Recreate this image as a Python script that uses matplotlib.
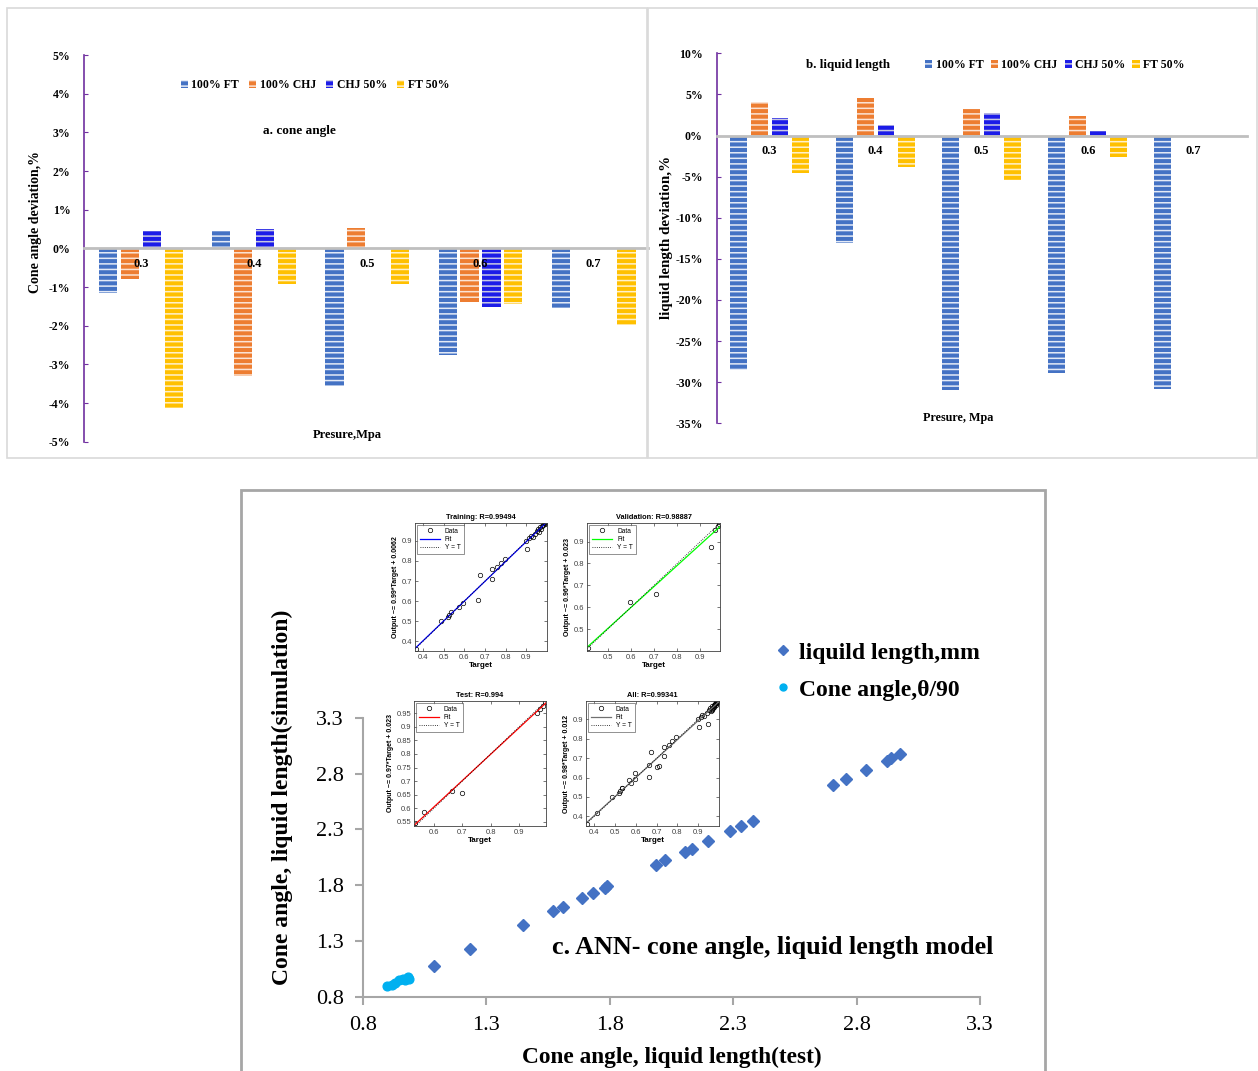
import numpy as np
import matplotlib.pyplot as plt
from matplotlib.patches import Patch, Rectangle
from matplotlib.lines import Line2D

# ---------------------------------------------------------------
# DATA
# ---------------------------------------------------------------
pressures = ["0.3", "0.4", "0.5", "0.6", "0.7"]
series_names = ["100% FT", "100% CHJ", "CHJ 50%", "FT 50%"]

# cone angle deviation, %
cone_ft100 = [-1.15, 0.46, -3.56, -2.76, -1.55]
cone_chj100 = [-0.78, -3.29, 0.52, -1.38, 0.0]
cone_chj50 = [0.46, 0.50, 0.0, -1.51, 0.0]
cone_ft50 = [-4.12, -0.92, -0.91, -1.45, -1.98]

# liquid length deviation, %
liq_ft100 = [-28.5, -13.05, -31.0, -28.86, -30.8]
liq_chj100 = [4.13, 4.54, 3.24, 2.43, 0.0]
liq_chj50 = [2.1, 1.22, 2.72, 0.6, 0.0]
liq_ft50 = [-4.58, -3.77, -5.47, -2.63, 0.0]

# ANN model: test vs simulation
ll_test = [1.088, 1.234, 1.450, 1.571, 1.609, 1.686, 1.733, 1.781, 1.790,
           1.987, 2.024, 2.105, 2.132, 2.199, 2.287, 2.332, 2.382,
           2.703, 2.756, 2.837, 2.922, 2.938, 2.976]
ll_sim = [1.079, 1.225, 1.447, 1.566, 1.603, 1.684, 1.729, 1.774, 1.789,
          1.984, 2.023, 2.098, 2.128, 2.194, 2.287, 2.329, 2.376,
          2.698, 2.749, 2.832, 2.916, 2.938, 2.974]
ca_test = [0.896, 0.916, 0.930, 0.947, 0.961, 0.970, 0.984, 0.988]
ca_sim = [0.893, 0.908, 0.926, 0.950, 0.959, 0.953, 0.974, 0.956]

# regression sub-plots (target, output)
train_target = [0.365, 0.485, 0.52, 0.525, 0.535, 0.575, 0.595, 0.665, 0.675,
                0.735, 0.735, 0.76, 0.775, 0.795, 0.90, 0.905, 0.915, 0.92,
                0.93, 0.94, 0.95, 0.955, 0.96, 0.965, 0.97, 0.975, 0.98,
                0.985, 0.99, 0.99, 0.995]
train_output = [0.36, 0.50, 0.52, 0.53, 0.545, 0.57, 0.59, 0.605, 0.73,
                0.76, 0.71, 0.77, 0.79, 0.81, 0.90, 0.86, 0.915, 0.925,
                0.92, 0.935, 0.95, 0.96, 0.945, 0.97, 0.96, 0.975, 0.98,
                0.99, 0.985, 0.99, 0.995]
val_target = [0.415, 0.595, 0.71, 0.945, 0.965, 0.975, 0.98]
val_output = [0.415, 0.625, 0.66, 0.875, 0.955, 0.97, 0.98]
test_target = [0.535, 0.565, 0.665, 0.70, 0.965, 0.975, 0.985, 0.99]
test_output = [0.545, 0.585, 0.665, 0.655, 0.95, 0.965, 0.975, 0.99]

fits = {
    "Training": (0.99, 0.0062, 0.99494),
    "Validation": (0.96, 0.023, 0.98887),
    "Test": (0.97, 0.023, 0.994),
    "All": (0.98, 0.012, 0.99341),
}

# ---------------------------------------------------------------
# STYLE
# ---------------------------------------------------------------
W, H = 1258, 1071
SERIF = "Liberation Serif"
SANS = "Liberation Sans"
plt.rcParams["hatch.linewidth"] = 1.1

bar_faces = ["#4472C4", "#ED7D31", "#1C1CE8", "#FFC000"]
bar_stripes = ["#E4EAF6", "#FBE3D4", "#C9C9E2", "#FFF1CC"]
bar_offsets = [-0.29, -0.097, 0.097, 0.29]
bar_width = 0.16
purple = "#7030A0"
bold_serif = {"family": SERIF, "weight": "bold"}


def px_axes(fig, left, top, right, bottom):
    # axes placed from pixel edges
    return fig.add_axes([left / W, 1 - bottom / H, (right - left) / W,
                         (bottom - top) / H])


def frame(fig, left, top, right, bottom, color, lw):
    fig.add_artist(Rectangle((left / W, 1 - bottom / H), (right - left) / W,
                             (bottom - top) / H, transform=fig.transFigure,
                             fill=False, edgecolor=color, linewidth=lw))


def bar_panel(ax, data, ylim, yticks, xmax):
    x = np.arange(len(pressures))
    for vals, off, face, stripe in zip(data, bar_offsets, bar_faces, bar_stripes):
        ax.bar(x + off, vals, width=bar_width, color=face, edgecolor=stripe,
               linewidth=0, hatch="---")
    # zero line first, it resets the tick labels
    ax.spines["bottom"].set_position(("data", 0))
    ax.spines["bottom"].set_color("#BFBFBF")
    ax.spines["bottom"].set_linewidth(2)
    ax.spines["left"].set_color(purple)
    ax.spines["left"].set_linewidth(1.2)
    ax.spines["top"].set_visible(False)
    ax.spines["right"].set_visible(False)
    ax.set_xlim(-0.5, xmax)
    ax.set_ylim(*ylim)
    ax.set_yticks(yticks)
    ax.set_yticklabels([f"{t}%" for t in yticks], fontsize=8.5, **bold_serif)
    ax.set_xticks(x)
    ax.set_xticklabels(pressures, fontsize=9, **bold_serif)
    ax.tick_params(axis="x", length=0, pad=7)
    ax.tick_params(axis="y", direction="in", length=3, color=purple, pad=10)
    handles = [Patch(facecolor=f, edgecolor=s, linewidth=0, hatch="---")
               for f, s in zip(bar_faces, bar_stripes)]
    return handles


fig = plt.figure(figsize=(W / 100, H / 100), dpi=100)

# ---------------------------------------------------------------
# a. cone angle
# ---------------------------------------------------------------
frame(fig, 7, 8, 647, 458, "#D9D9D9", 1.2)
ax_a = px_axes(fig, 84.3, 55, 648, 441.7)
handles = bar_panel(ax_a, [cone_ft100, cone_chj100, cone_chj50, cone_ft50],
                    (-5, 5), list(range(-5, 6)), 4.48)
ax_a.set_ylabel("Cone angle deviation,%", fontsize=10, va="center",
                **bold_serif)
ax_a.yaxis.set_label_coords(-0.0857, 0.567)
ax_a.text(0.381, 0.8035, "a. cone angle", transform=ax_a.transAxes,
          ha="center", va="center", fontsize=9.5, **bold_serif)
ax_a.text(0.466, 0.017, "Presure,Mpa", transform=ax_a.transAxes,
          ha="center", va="center", fontsize=9, **bold_serif)
ax_a.legend(handles, series_names, loc="center", bbox_to_anchor=(0.409, 0.9224),
            ncol=4, frameon=False, handlelength=0.6, handleheight=0.6,
            handletextpad=0.3, columnspacing=0.85,
            prop={"family": SERIF, "weight": "bold", "size": 8.5})

# ---------------------------------------------------------------
# b. liquid length
# ---------------------------------------------------------------
frame(fig, 648, 8, 1257, 458, "#D9D9D9", 1.2)
ax_b = px_axes(fig, 716.7, 53.3, 1246.7, 423.3)
handles = bar_panel(ax_b, [liq_ft100, liq_chj100, liq_chj50, liq_ft50],
                    (-35, 10), list(range(-35, 11, 5)), 4.5)
ax_b.set_ylabel("liquid length deviation,%", fontsize=10.8, va="center",
                **bold_serif)
ax_b.yaxis.set_label_coords(-0.0938, 0.502)
ax_b.text(0.2477, 0.968, "b. liquid length", transform=ax_b.transAxes,
          ha="center", va="center", fontsize=9.4, **bold_serif)
ax_b.text(0.455, 0.014, "Presure, Mpa", transform=ax_b.transAxes,
          ha="center", va="center", fontsize=8.7, **bold_serif)
ax_b.legend(handles, series_names, loc="center", bbox_to_anchor=(0.638, 0.968),
            ncol=4, frameon=False, handlelength=0.6, handleheight=0.6,
            handletextpad=0.3, columnspacing=0.6,
            prop={"family": SERIF, "weight": "bold", "size": 8.5})

# ---------------------------------------------------------------
# c. ANN model
# ---------------------------------------------------------------
frame(fig, 241, 490, 1045, 1090, "#A6A6A6", 2)
ax_c = px_axes(fig, 363, 718, 980, 996.7)
ax_c.plot(ll_test, ll_sim, "D", color="#4472C4", ms=6.3, ls="none")
ax_c.plot(ca_test, ca_sim, "o", color="#00B0F0", ms=6.3, ls="none")
c_ticks = [0.8, 1.3, 1.8, 2.3, 2.8, 3.3]
ax_c.set_xlim(0.8, 3.3)
ax_c.set_ylim(0.8, 3.3)
ax_c.set_xticks(c_ticks)
ax_c.set_yticks(c_ticks)
ax_c.set_xticklabels([f"{t}" for t in c_ticks], fontfamily=SERIF, fontsize=16)
ax_c.set_yticklabels([f"{t}" for t in c_ticks], fontfamily=SERIF, fontsize=16)
ax_c.tick_params(direction="out", length=6, color="#A6A6A6", width=1.5, pad=8)
for side in ["top", "right"]:
    ax_c.spines[side].set_visible(False)
for side in ["left", "bottom"]:
    ax_c.spines[side].set_color("#A6A6A6")
    ax_c.spines[side].set_linewidth(1.5)
ax_c.set_xlabel("Cone angle, liquid length(test)", fontsize=16.8, va="center",
                **bold_serif)
ax_c.xaxis.set_label_coords(0.5008, -0.2164)
ax_c.set_ylabel("Cone angle, liquid length(simulation)", fontsize=17,
                va="center", **bold_serif)
ax_c.yaxis.set_label_coords(-0.1313, 0.7166)
ax_c.text(0.6645, 0.1775, "c. ANN- cone angle, liquid length model",
          transform=ax_c.transAxes, ha="center", va="center",
          fontsize=18.8, **bold_serif)
c_handles = [Line2D([], [], marker="D", ls="none", color="#4472C4", ms=5),
             Line2D([], [], marker="o", ls="none", color="#00B0F0", ms=5)]
fig.legend(c_handles, ["liquild length,mm", "Cone angle,\u03b8/90"],
           loc="upper left", bbox_to_anchor=(777 / W, 1 - 642 / H),
           frameon=False, handlelength=0.5, handletextpad=0.45,
           labelspacing=0.66, borderaxespad=0, borderpad=0,
           prop={"family": SERIF, "weight": "bold", "size": 17})


def regression_inset(rect, name, tx, ty, fit_color, lims, xticks, yticks):
    slope, icpt, r = fits[name]
    ax = px_axes(fig, *rect)
    ax.plot(tx, ty, "o", mfc="none", mec="k", ms=3.2, mew=0.5, ls="none",
            label="Data")
    xs = np.array(lims[0])
    ax.plot(xs, slope * xs + icpt, color=fit_color, lw=0.9, label="Fit")
    ax.plot(xs, xs, ":", color="k", lw=0.6, label="Y = T")
    ax.set_xlim(*lims[0])
    ax.set_ylim(*lims[1])
    ax.set_xticks(xticks)
    ax.set_yticks(yticks)
    ax.set_xticklabels([f"{t:g}" for t in xticks])
    ax.set_yticklabels([f"{t:g}" for t in yticks])
    ax.tick_params(direction="in", length=2, width=0.5, labelsize=5.5, pad=2,
                   top=True, right=True, colors="#404040")
    for sp in ax.spines.values():
        sp.set_linewidth(0.6)
        sp.set_color("#404040")
    for lab in ax.get_xticklabels() + ax.get_yticklabels():
        lab.set_fontfamily(SANS)
    ax.set_title(f"{name}: R={r:g}", fontfamily=SANS, fontweight="bold",
                 fontsize=5.3, pad=3)
    ax.set_xlabel("Target", fontfamily=SANS, fontweight="bold", fontsize=5.8,
                  labelpad=1)
    ax.set_ylabel(f"Output ~= {slope:g}*Target + {icpt:g}", fontfamily=SANS,
                  fontweight="bold", fontsize=5, labelpad=2)
    leg = ax.legend(loc="upper left", handlelength=3,
                    borderaxespad=0.3, fancybox=False, edgecolor="#404040",
                    prop={"family": SANS, "size": 4.8}, labelspacing=0.2)
    leg.get_frame().set_linewidth(0.5)
    return ax


all_target = train_target + val_target + test_target
all_output = train_output + val_output + test_output

regression_inset((415, 523, 547, 651), "Training", train_target, train_output,
                 "#0000FF", ((0.36, 1.0), (0.35, 0.99)),
                 [0.4, 0.5, 0.6, 0.7, 0.8, 0.9], [0.4, 0.5, 0.6, 0.7, 0.8, 0.9])
regression_inset((587, 523, 720, 651), "Validation", val_target, val_output,
                 "#00FF00", ((0.41, 0.985), (0.40, 0.985)),
                 [0.5, 0.6, 0.7, 0.8, 0.9], [0.5, 0.6, 0.7, 0.8, 0.9])
regression_inset((414, 701, 546, 826), "Test", test_target, test_output,
                 "#FF0000", ((0.53, 0.995), (0.535, 0.995)),
                 [0.6, 0.7, 0.8, 0.9],
                 [0.55, 0.6, 0.65, 0.7, 0.75, 0.8, 0.85, 0.9, 0.95])
regression_inset((586, 701, 719, 826), "All", all_target, all_output,
                 "#707070", ((0.36, 1.0), (0.35, 0.995)),
                 [0.4, 0.5, 0.6, 0.7, 0.8, 0.9], [0.4, 0.5, 0.6, 0.7, 0.8, 0.9])

fig.savefig("out.png", dpi=100)
